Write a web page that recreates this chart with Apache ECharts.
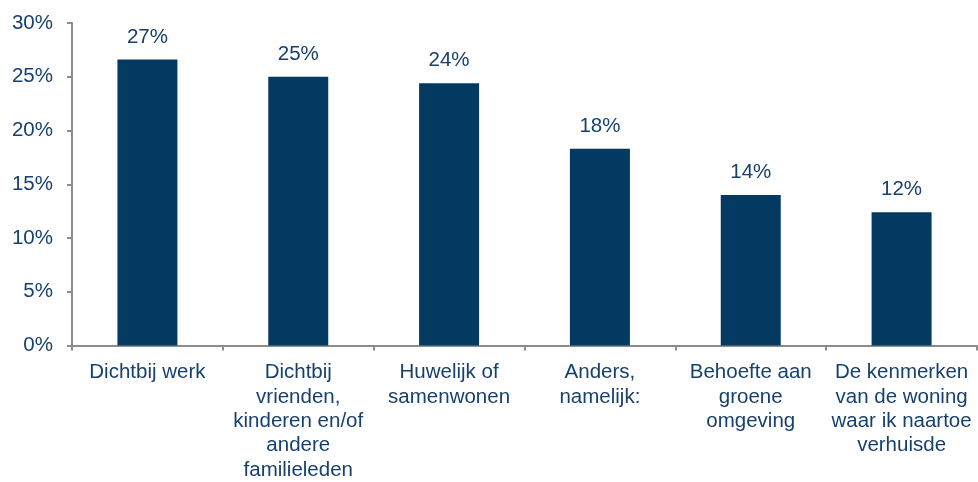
<!DOCTYPE html>
<html>
<head>
<meta charset="utf-8">
<script src="https://cdn.jsdelivr.net/npm/echarts@6/dist/echarts.min.js"></script>
<style>
  html, body { margin: 0; padding: 0; background: #ffffff; }
  #chart { width: 978px; height: 482px; }
</style>
</head>
<body>
<div id="chart"></div>
<script>
// Reasons for moving (share of respondents)
const categories = [
  'Dichtbij werk',
  'Dichtbij\nvrienden,\nkinderen en/of\nandere\nfamilieleden',
  'Huwelijk of\nsamenwonen',
  'Anders,\nnamelijk:',
  'Behoefte aan\ngroene\nomgeving',
  'De kenmerken\nvan de woning\nwaar ik naartoe\nverhuisde'
];
const shares = [26.6, 25.0, 24.4, 18.3, 14.0, 12.4];
const yTicks = [0, 5, 10, 15, 20, 25, 30];

const textColor = '#17406d';
const barColor = '#043a62';
const axisColor = '#8c8c8c';
const fontFamily = '"Liberation Sans", Arial, sans-serif';
const fontSize = 20.5;

const chart = echarts.init(document.getElementById('chart'));
chart.setOption({
  animation: false,
  grid: { left: 72, right: 1, top: 23, bottom: 132, containLabel: false },
  xAxis: {
    type: 'category',
    data: categories,
    axisLine: { show: true, lineStyle: { color: axisColor, width: 2 } },
    axisTick: { show: true, length: 5, lineStyle: { color: axisColor, width: 2 } },
    axisLabel: {
      interval: 0,
      margin: 15,
      color: textColor,
      fontFamily: fontFamily,
      fontSize: fontSize,
      lineHeight: 24.3,
      align: 'center'
    }
  },
  yAxis: {
    type: 'value',
    min: yTicks[0],
    max: yTicks[yTicks.length - 1],
    interval: 5,
    splitLine: { show: false },
    axisLine: { show: true, lineStyle: { color: axisColor, width: 2 } },
    axisTick: { show: true, length: 5, lineStyle: { color: axisColor, width: 2 } },
    axisLabel: {
      margin: 19,
      color: textColor,
      fontFamily: fontFamily,
      fontSize: fontSize,
      formatter: '{value}%'
    }
  },
  series: [{
    type: 'bar',
    data: shares,
    barWidth: 60,
    itemStyle: { color: barColor },
    label: {
      show: true,
      position: 'top',
      distance: 12,
      color: textColor,
      fontFamily: fontFamily,
      fontSize: fontSize,
      formatter: p => Math.round(p.value) + '%'
    }
  }]
});
</script>
</body>
</html>
